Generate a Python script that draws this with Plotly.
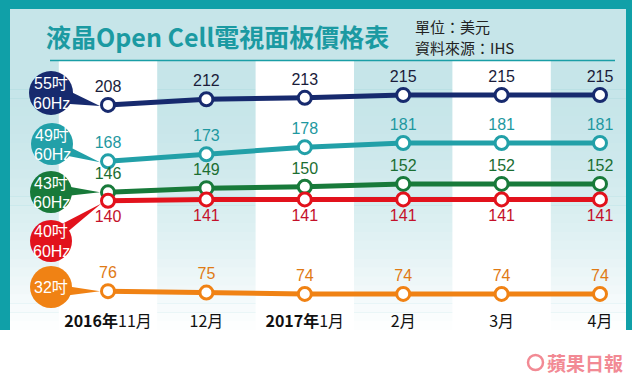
import math
import plotly.graph_objects as go

# ---------------- data ----------------
months = ["<b>2016年</b>11月", "12月", "<b>2017年</b>1月", "2月", "3月", "4月"]
series_names = ["55吋<br>60Hz", "49吋<br>60Hz", "43吋<br>60Hz", "40吋<br>60Hz", "32吋"]
s55 = [208, 212, 213, 215, 215, 215]
s49 = [168, 173, 178, 181, 181, 181]
s43 = [146, 149, 150, 152, 152, 152]
s40 = [140, 141, 141, 141, 141, 141]
s32 = [76, 75, 74, 74, 74, 74]
title_text = "液晶Open Cell電視面板價格表"
unit_text = "單位：美元"
source_text = "資料來源：IHS"
brand_text = "蘋果日報"

# ---------------- styles ----------------
W, H = 635, 380
PLOT_H = 333
FRAME_B = 330
X_RANGE = [-1.0976, 5.3557]
Y_RANGE = [46.33, 282.33]
FONT = "Liberation Sans, Arial, Noto Sans CJK TC, sans-serif"
CJK = "Noto Sans CJK TC, Liberation Sans, sans-serif"
TEAL_FRAME = "#10a0a8"
BG_TOP = (198, 229, 233)

line_colors = ["#172a6e", "#22a0a8", "#187a3a", "#e2121c", "#f08214"]
label_colors = ["#1a1c3a", "#1e98a0", "#1b6e32", "#c4102a", "#e07a14"]
text_pos = ["top center", "top center", "top center", "bottom center", "top center"]
bubbles = [
    dict(c=(51, 93), r=22, a=(-5, 35), tip=(-8, 1)),
    dict(c=(52, 144), r=21, a=(10, 40), tip=(-8, 1)),
    dict(c=(51, 192), r=21, a=(-18, 12), tip=(-8, 0)),
    dict(c=(51, 241), r=21, a=(-62, -28), tip=(-7, 3)),
    dict(c=(51, 287), r=21, a=(-2, 28), tip=(-8, 0)),
]


def xd(px):
    return X_RANGE[0] + px / W * (X_RANGE[1] - X_RANGE[0])


def yd(py):
    return Y_RANGE[1] - py / PLOT_H * (Y_RANGE[1] - Y_RANGE[0])


def xpix(x):
    return (x - X_RANGE[0]) / (X_RANGE[1] - X_RANGE[0]) * W


def ypix(y):
    return (Y_RANGE[1] - y) / (Y_RANGE[1] - Y_RANGE[0]) * PLOT_H


def xp(px):
    return px / W


def yp(py):
    return 1 - py / PLOT_H


series = [s55, s49, s43, s40, s32]
xs = list(range(len(months)))

shapes = []
shapes.append(dict(type="rect", xref="paper", yref="paper", x0=xp(0), x1=xp(632), y0=yp(FRAME_B), y1=yp(0),
                   fillcolor=TEAL_FRAME, line_width=0, layer="below"))
N = 36
top, bot = 9, FRAME_B
for k in range(N):
    y0 = top + (bot - top) * k / N
    y1 = top + (bot - top) * (k + 1) / N
    t = (k + 0.5) / N
    f = max(0.0, (t - 0.25) / 0.75) ** 1.6
    col = tuple(int(round(c + (255 - c) * f)) for c in BG_TOP)
    shapes.append(dict(type="rect", xref="paper", yref="paper", x0=xp(10), x1=xp(626),
                       y0=yp(min(y1 + 0.6, bot)), y1=yp(y0), fillcolor="rgb(%d,%d,%d)" % col,
                       line_width=0, layer="below"))
for i in xs:
    if i % 2 == 0:
        shapes.append(dict(type="rect", xref="x", yref="paper", x0=i - 0.5, x1=i + 0.5,
                           y0=yp(FRAME_B), y1=yp(61), fillcolor="white", line_width=0, layer="below"))
shapes.append(dict(type="line", xref="paper", yref="paper", x0=xp(50), x1=xp(615), y0=yp(60.5), y1=yp(60.5),
                   line=dict(color="#1a9ea6", width=1.5), layer="below"))

annotations = []


def note(px, py, text, size, color, xanchor="center", family=CJK):
    annotations.append(dict(x=xp(px), y=yp(py), xref="paper", yref="paper", text=text, showarrow=False,
                            xanchor=xanchor, yanchor="middle", font=dict(family=family, size=size, color=color)))


for b, col, vals, name in zip(bubbles, line_colors, series, series_names):
    cx, cy = b["c"]
    r = b["r"]
    tipx = xpix(0) + b["tip"][0]
    tipy = ypix(vals[0]) + b["tip"][1]
    pts = []
    for a in b["a"]:
        ar = math.radians(a)
        pts.append((cx + 0.85 * r * math.cos(ar), cy + 0.85 * r * math.sin(ar)))
    path = "M %f,%f L %f,%f L %f,%f Z" % (xd(pts[0][0]), yd(pts[0][1]), xd(tipx), yd(tipy),
                                          xd(pts[1][0]), yd(pts[1][1]))
    shapes.append(dict(type="path", xref="x", yref="y", path=path, fillcolor=col, line_width=0, layer="below"))
    shapes.append(dict(type="circle", xref="x", yref="y", x0=xd(cx - r), x1=xd(cx + r),
                       y0=yd(cy + r), y1=yd(cy - r), fillcolor=col, line_width=0, layer="below"))
    parts = name.split("<br>")
    if len(parts) == 1:
        note(cx, cy, parts[0], 16, "white", family=FONT)
    else:
        note(cx, cy - 9, parts[0], 16, "white", family=FONT)
        note(cx, cy + 10, parts[1], 16, "white", family=FONT)

note(217, 36, "<b>" + title_text + "</b>", 25, "#1b9aa2")
note(413, 26, unit_text, 15, "#222222", xanchor="left")
note(413, 48, source_text, 15, "#222222", xanchor="left")
note(585, 362, "<b>" + brand_text + "</b>", 19, "#f28a94")
shapes.append(dict(type="circle", xref="paper", yref="paper", x0=xp(528), x1=xp(543), y0=yp(370), y1=yp(355),
                   fillcolor="white", line=dict(color="#f28a94", width=2.5)))

fig = go.Figure()
for vals, lc, tc, tp in zip(series, line_colors, label_colors, text_pos):
    fig.add_trace(go.Scatter(
        x=xs, y=vals, mode="lines+markers+text", text=[str(v) for v in vals],
        textposition=tp, textfont=dict(family=FONT, size=16, color=tc),
        line=dict(color=lc, width=5),
        marker=dict(size=13, color="white", line=dict(color=lc, width=3)),
        cliponaxis=False, showlegend=False, hoverinfo="skip"))

fig.update_layout(
    width=W, height=H, margin=dict(l=0, r=0, t=0, b=H - PLOT_H, pad=0),
    paper_bgcolor="white", plot_bgcolor="rgba(0,0,0,0)",
    shapes=shapes, annotations=annotations, showlegend=False,
    xaxis=dict(range=X_RANGE, tickvals=xs, ticktext=months, showgrid=False, zeroline=False,
               showline=False, ticks="", ticklabelposition="inside",
               tickfont=dict(family=CJK, size=16, color="#111111"), fixedrange=True),
    yaxis=dict(range=Y_RANGE, visible=False, showgrid=False, zeroline=False, fixedrange=True),
)
fig.write_html("out.html", config={"displayModeBar": False},
               post_script="document.body.style.margin='0px';")
